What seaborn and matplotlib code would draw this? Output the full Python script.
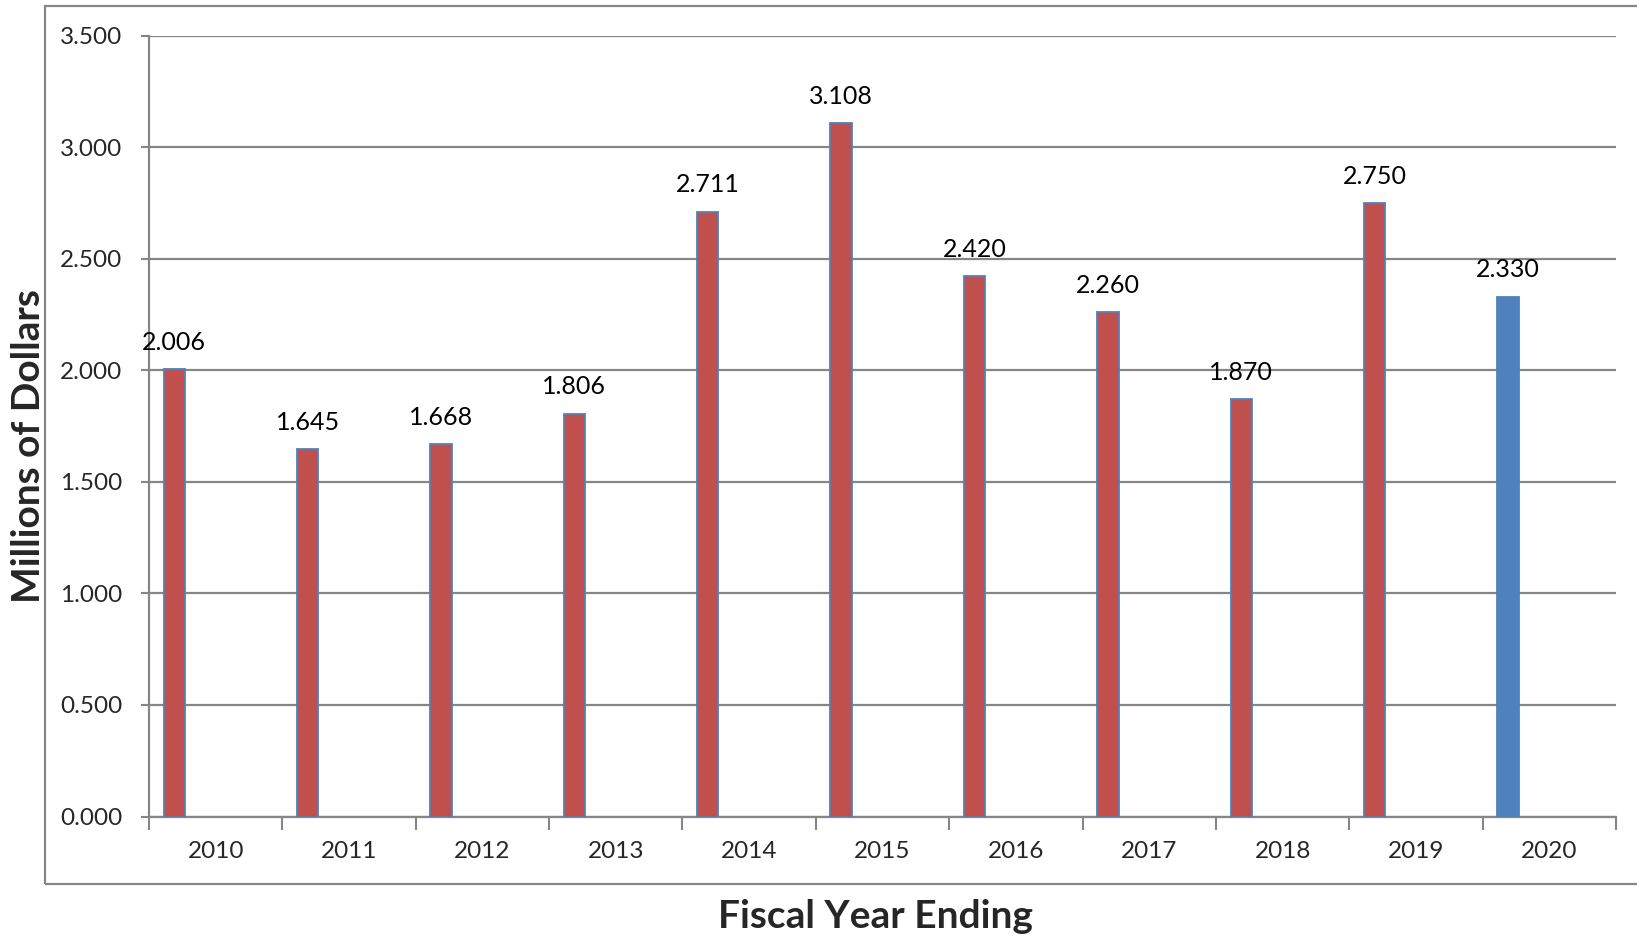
import numpy as np
import pandas as pd
import matplotlib
matplotlib.use("Agg")
import matplotlib.pyplot as plt
from matplotlib.patches import Rectangle
import seaborn as sns

# Fiscal-year totals (millions of dollars)
years = ["2010", "2011", "2012", "2013", "2014", "2015",
         "2016", "2017", "2018", "2019", "2020"]
amounts = [2.006, 1.645, 1.668, 1.806, 2.711, 3.108,
           2.420, 2.260, 1.870, 2.750, 2.330]
status = ["Actual"] * 10 + ["Budget"]
y_ticks = [0.0, 0.5, 1.0, 1.5, 2.0, 2.5, 3.0, 3.5]

RED = "#C0504D"
BLUE = "#4F81BD"
GRID = "#868686"

sns.set_theme(style="white")
plt.rcParams["font.family"] = ["Lato", "DejaVu Sans"]

W, H = 1637, 940
fig = plt.figure(figsize=(W / 100, H / 100), dpi=100)

# plot area in pixel coordinates
px_left, px_right, px_top, px_bottom = 149, 1616, 35.5, 816.5
ax = fig.add_axes([px_left / W, (H - px_bottom) / H,
                   (px_right - px_left) / W, (px_bottom - px_top) / H])

# each year occupies the slot [i, i+1]; bars sit in the left part of the slot
slot = np.arange(len(years))
df = pd.DataFrame({"pos": slot + 0.19, "amount": amounts, "status": status})

sns.barplot(data=df, x="pos", y="amount", hue="status",
            palette={"Actual": RED, "Budget": BLUE}, saturation=1,
            native_scale=True, width=0.16, dodge=False, legend=False,
            edgecolor=BLUE, linewidth=1.3, ax=ax, zorder=3)

# value labels above bars
for p, v in zip(df["pos"], df["amount"]):
    ax.annotate(f"{v:.3f}", (p, v), xytext=(0, 11), textcoords="offset points",
                ha="center", va="bottom", fontsize=18, color="black")

ax.set_xlim(0, len(years))
ax.set_ylim(0, 3.5)

# y axis
ax.set_yticks(y_ticks)
ax.set_yticklabels([f"{t:.3f}" for t in y_ticks], fontsize=17.5)
ax.yaxis.grid(True, color=GRID, linewidth=1.6)
ax.set_axisbelow(True)
ax.tick_params(axis="y", which="major", direction="out", length=6,
               width=1.5, color=GRID, pad=13, left=True)

# x axis: tick marks at slot boundaries, labels centered in slots
ax.set_xticks(np.arange(len(years) + 1))
ax.set_xticklabels([])
ax.set_xticks(slot + 0.5, minor=True)
ax.set_xticklabels(years, minor=True, fontsize=17.5)
ax.tick_params(axis="x", which="major", direction="out", length=9,
               width=1.5, color=GRID, bottom=True)
ax.tick_params(axis="x", which="minor", length=0, pad=18)

ax.set_xlabel("")
ax.set_ylabel("")
for side in ["top", "right"]:
    ax.spines[side].set_visible(False)
for side in ["left", "bottom"]:
    ax.spines[side].set_color(GRID)
    ax.spines[side].set_linewidth(1.6)

# axis titles
fig.text(29 / W, 1 - 446 / H, "Millions of Dollars", rotation=90,
         ha="center", va="center", fontsize=28, fontweight="bold")
fig.text(875 / W, 1 - 917 / H, "Fiscal Year Ending",
         ha="center", va="center", fontsize=28, fontweight="bold")

# chart frame
fig.patches.append(Rectangle((45 / W, 1 - 884 / H), (1720 - 45) / W,
                             (884 - 6) / H, transform=fig.transFigure,
                             fill=False, edgecolor=GRID, linewidth=1.6,
                             clip_on=False))

fig.savefig("out.png", dpi=100, facecolor="white")
